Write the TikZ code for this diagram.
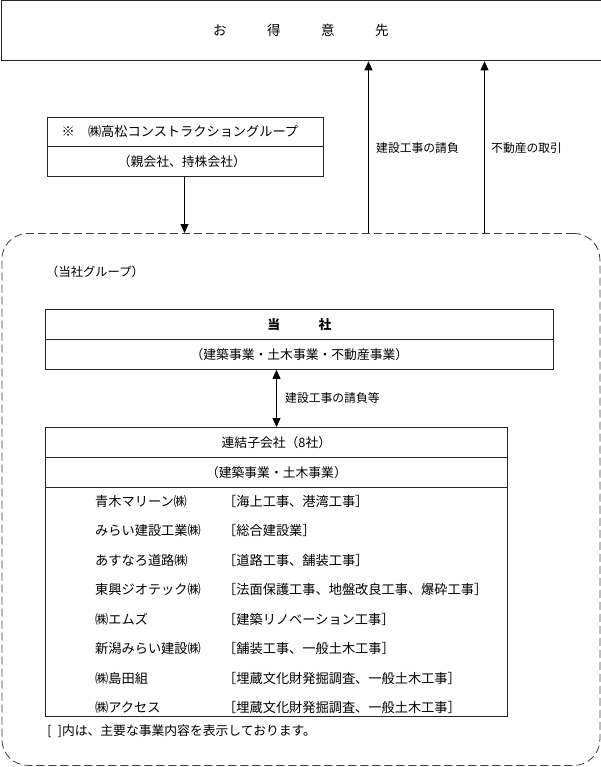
\documentclass[tikz,border=0pt]{standalone}
\usepackage{fontspec}
\setmainfont{Noto Sans CJK JP}
\usetikzlibrary{arrows.meta}

\newlength{\du}
\setlength{\du}{1pt}

\tikzset{
  waku/.style={draw=black!85, line width=0.8\du, inner sep=0pt, anchor=north west,
    font=\fontsize{12.8}{14}\selectfont},
  moji/.style={inner sep=0pt, anchor=west, font=\fontsize{13.2}{15}\selectfont},
  ramoji/.style={inner sep=0pt, anchor=west, font=\fontsize{11.8}{13}\selectfont},
  yaji/.style={-{Triangle[length=9pt,width=8pt]}, line width=0.8\du},
  tensen/.style={draw=black!75, line width=0.8\du, dash pattern=on 8pt off 4pt,
    rounded corners=26pt, inner sep=0pt, anchor=north west},
}

\begin{document}
\begin{tikzpicture}
\pgftransformxscale{1.000000}
\pgftransformyscale{-1.000000}
\useasboundingbox (0.000000\du,0.000000\du) rectangle (601.000000\du,767.000000\du);
% customers
\node[waku, minimum width=600\du, minimum height=60\du, font=\fontsize{13.5}{15}\selectfont] (tokui) at (0.500000\du,0.500000\du){お　　　得　　　意　　　先};
% parent company
\node[waku, minimum width=276\du, minimum height=29\du, font=\fontsize{13.2}{15}\selectfont] (oya) at (46.500000\du,117.000000\du){※　㈱高松コンストラクショングループ\hspace*{10pt}};
\node[waku, minimum width=276\du, minimum height=30\du] (oyasub) at (46.500000\du,146.000000\du){（親会社、持株会社）\hspace*{6pt}};
% group frame
\node[tensen, minimum width=598\du, minimum height=532\du] (grp) at (1.500000\du,233.000000\du){};
\coordinate (xoya) at (184.500000\du,0.000000\du);
\draw[yaji] (oyasub.south -| xoya) -- (grp.north -| xoya);
\coordinate (ue1) at (368.500000\du,233.000000\du);
\coordinate (ue2) at (484.500000\du,233.000000\du);
\draw[yaji] (ue1) -- (ue1 |- tokui.south);
\draw[yaji] (ue2) -- (ue2 |- tokui.south);
\node[ramoji] (ukeoi) at (376.000000\du,148.000000\du){建設工事の請負};
\node[ramoji] (fudosan) at (491.000000\du,148.000000\du){不動産の取引};
\node[ramoji, font=\fontsize{12.3}{14}\selectfont] (grplabel) at (46.000000\du,272.000000\du){（当社グループ）};
% this company
\node[waku, minimum width=508\du, minimum height=30\du] (tosha) at (45.000000\du,309.000000\du){\bfseries 当　　　社};
\node[waku, minimum width=508\du, minimum height=30\du] (toshasub) at (45.000000\du,339.000000\du){（建築事業・土木事業・不動産事業）};
% subsidiaries
\node[waku, minimum width=462\du, minimum height=30\du] (renketsu) at (45.000000\du,427.000000\du){連結子会社（8社）};
\node[waku, minimum width=462\du, minimum height=30\du] (renjigyo) at (45.000000\du,457.000000\du){（建築事業・土木事業）};
\node[waku, minimum width=462\du, minimum height=229\du] (renlist) at (45.000000\du,487.000000\du){};
\coordinate (xren) at (276.500000\du,0.000000\du);
\draw[{Triangle[length=9pt,width=8pt]}-{Triangle[length=9pt,width=8pt]}, line width=0.8\du] (toshasub.south -| xren) -- (renketsu.north -| xren);
\node[ramoji] (ukeoito) at (285.000000\du,398.000000\du){建設工事の請負等};
\node[moji] (ko1) at (95.000000\du,501.000000\du){青木マリーン㈱};
\node[moji] (kd1) at (223.000000\du,501.000000\du){［海上工事、港湾工事］};
\node[moji] (ko2) at (95.000000\du,530.500000\du){みらい建設工業㈱};
\node[moji] (kd2) at (223.000000\du,530.500000\du){［総合建設業］};
\node[moji] (ko3) at (95.000000\du,560.000000\du){あすなろ道路㈱};
\node[moji] (kd3) at (223.000000\du,560.000000\du){［道路工事、舗装工事］};
\node[moji] (ko4) at (95.000000\du,589.500000\du){東興ジオテック㈱};
\node[moji] (kd4) at (223.000000\du,589.500000\du){［法面保護工事、地盤改良工事、爆砕工事］};
\node[moji] (ko5) at (95.000000\du,619.000000\du){㈱エムズ};
\node[moji] (kd5) at (223.000000\du,619.000000\du){［建築リノベーション工事］};
\node[moji] (ko6) at (95.000000\du,648.500000\du){新潟みらい建設㈱};
\node[moji] (kd6) at (223.000000\du,648.500000\du){［舗装工事、一般土木工事］};
\node[moji] (ko7) at (95.000000\du,678.000000\du){㈱島田組};
\node[moji] (kd7) at (223.000000\du,678.000000\du){［埋蔵文化財発掘調査、一般土木工事］};
\node[moji] (ko8) at (95.000000\du,707.500000\du){㈱アクセス};
\node[moji] (kd8) at (223.000000\du,707.500000\du){［埋蔵文化財発掘調査、一般土木工事］};
\node[waku, draw=none, anchor=west] (chuki) at (47.000000\du,731.000000\du){[\hspace{6pt}]内は、主要な事業内容を表示しております。};
\end{tikzpicture}
\end{document}
